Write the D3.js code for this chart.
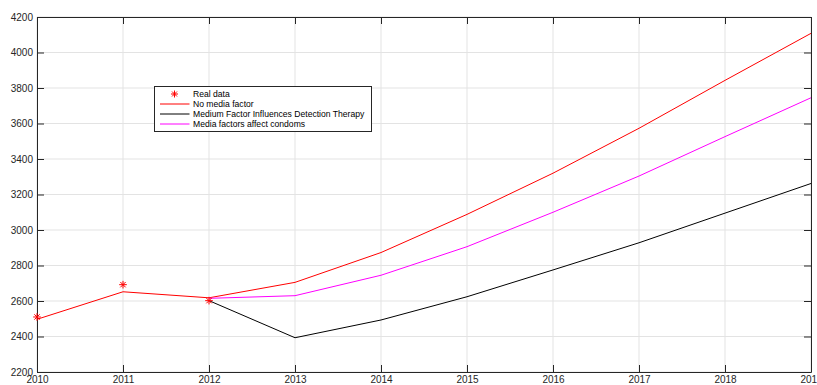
<!DOCTYPE html>
<html>
<head>
<meta charset="utf-8">
<script src="https://cdn.jsdelivr.net/npm/d3@7"></script>
<style>
  body { margin: 0; background: #fff; }
  svg { display: block; font-family: Arial, "Liberation Sans", Helvetica, sans-serif; }
</style>
</head>
<body>
<div id="chart"></div>
<script>
// data
const realYears = [2010, 2011, 2012];
const realValues = [2510, 2692, 2602];

const years = [2010, 2011, 2012, 2013, 2014, 2015, 2016, 2017, 2018, 2019];
const noMedia = [2497, 2652, 2618, 2705, 2873, 3088, 3320, 3573, 3843, 4108];

const detectYears = [2012, 2013, 2014, 2015, 2016, 2017, 2018, 2019];
const detectTherapy = [2602, 2393, 2493, 2624, 2775, 2928, 3095, 3262];
const condoms = [2615, 2630, 2745, 2906, 3100, 3304, 3526, 3745];

const xTicks = [2010, 2011, 2012, 2013, 2014, 2015, 2016, 2017, 2018, 2019];
const yTicks = [2200, 2400, 2600, 2800, 3000, 3200, 3400, 3600, 3800, 4000, 4200];

const legendLabels = ["Real data", "No media factor", "Medium Factor Influences Detection Therapy", "Media factors affect condoms"];

const W = 817, H = 385;
const margin = {top: 17, right: 6, bottom: 13, left: 37};
const width = W - margin.left - margin.right;
const height = H - margin.top - margin.bottom;
const axisColor = "#262626";

const svg = d3.select("#chart").append("svg")
  .attr("width", W)
  .attr("height", H);

const g = svg.append("g")
  .attr("transform", "translate(" + margin.left + "," + margin.top + ")");

const x = d3.scaleLinear().domain([2010, 2019]).range([0, width]);
const y = d3.scaleLinear().domain([2200, 4200]).range([height, 0]);

// grid
g.append("g").selectAll("line.gx")
  .data(xTicks)
  .enter().append("line")
  .attr("x1", d => x(d)).attr("x2", d => x(d))
  .attr("y1", 0).attr("y2", height)
  .attr("stroke", "#e3e3e3").attr("stroke-width", 1);

g.append("g").selectAll("line.gy")
  .data(yTicks)
  .enter().append("line")
  .attr("x1", 0).attr("x2", width)
  .attr("y1", d => y(d)).attr("y2", d => y(d))
  .attr("stroke", "#e3e3e3").attr("stroke-width", 1);

// axes (box with mirrored ticks)
const tickLen = 7;
const styleAxis = sel => {
  sel.select(".domain").attr("stroke", axisColor);
  sel.selectAll(".tick line").attr("stroke", axisColor);
  sel.selectAll(".tick text").attr("fill", axisColor).style("font-size", "10px");
};

g.append("g")
  .attr("transform", "translate(0," + height + ")")
  .call(d3.axisBottom(x).tickValues(xTicks).tickFormat(d3.format("d")).tickSizeInner(-tickLen).tickSizeOuter(0).tickPadding(4))
  .call(styleAxis);

g.append("g")
  .call(d3.axisTop(x).tickValues(xTicks).tickFormat("").tickSizeInner(-tickLen).tickSizeOuter(0))
  .call(styleAxis);

g.append("g")
  .call(d3.axisLeft(y).tickValues(yTicks).tickFormat(d3.format("d")).tickSizeInner(-tickLen).tickSizeOuter(0).tickPadding(4))
  .call(styleAxis);

g.append("g")
  .attr("transform", "translate(" + width + ",0)")
  .call(d3.axisRight(y).tickValues(yTicks).tickFormat("").tickSizeInner(-tickLen).tickSizeOuter(0))
  .call(styleAxis);

// lines
const line = d3.line().x(d => x(d[0])).y(d => y(d[1]));

const series = [
  {xs: years, ys: noMedia, color: "#ff0000"},
  {xs: detectYears, ys: detectTherapy, color: "#000000"},
  {xs: detectYears, ys: condoms, color: "#ff00ff"}
];

series.forEach(s => {
  g.append("path")
    .datum(d3.zip(s.xs, s.ys))
    .attr("d", line)
    .attr("fill", "none")
    .attr("stroke", s.color)
    .attr("stroke-width", 1);
});

// asterisk markers like matlab '*'
const star = r => {
  const a = r * 0.7071;
  return "M" + (-r) + ",0L" + r + ",0M0," + (-r) + "L0," + r +
    "M" + (-a) + "," + (-a) + "L" + a + "," + a + "M" + (-a) + "," + a + "L" + a + "," + (-a);
};

g.selectAll("path.real")
  .data(d3.zip(realYears, realValues))
  .enter().append("path")
  .attr("class", "real")
  .attr("transform", d => "translate(" + x(d[0]) + "," + y(d[1]) + ")")
  .attr("d", star(3.8))
  .attr("stroke", "#ff0000")
  .attr("stroke-width", 1)
  .attr("fill", "none");

// legend
const lg = svg.append("g").attr("transform", "translate(154.5,86.5)");
lg.append("rect")
  .attr("width", 217).attr("height", 45)
  .attr("fill", "#fff").attr("stroke", axisColor).attr("stroke-width", 1);

const legendColors = ["#ff0000", "#ff0000", "#000000", "#ff00ff"];
legendLabels.forEach((label, i) => {
  const cy = 7.5 + i * 10;
  if (i === 0) {
    lg.append("path")
      .attr("transform", "translate(20," + cy + ")")
      .attr("d", star(3.5))
      .attr("stroke", legendColors[i]).attr("fill", "none");
  } else {
    lg.append("line")
      .attr("x1", 5.5).attr("x2", 35)
      .attr("y1", cy).attr("y2", cy)
      .attr("stroke", legendColors[i]).attr("stroke-width", 1);
  }
  lg.append("text")
    .attr("x", 38.5).attr("y", cy)
    .attr("dy", "0.35em")
    .attr("fill", "#000")
    .style("font-size", "8.6px")
    .text(label);
});
</script>
</body>
</html>
